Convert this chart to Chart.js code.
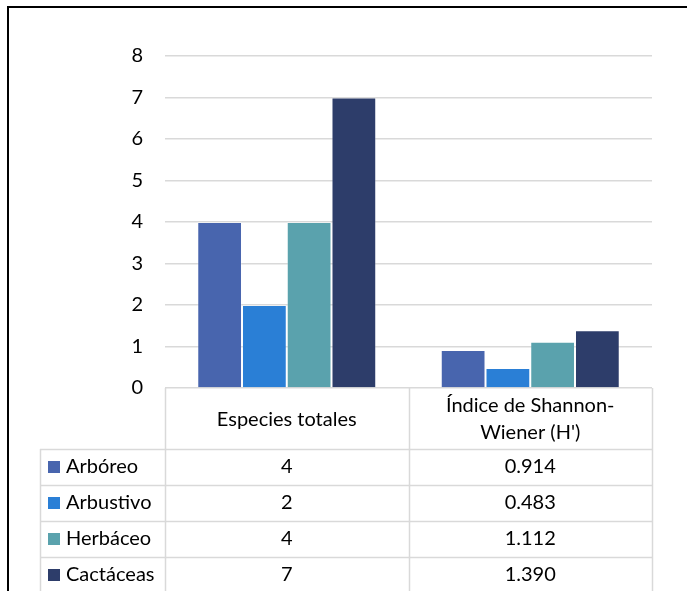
<!DOCTYPE html>
<html>
<head>
<meta charset="utf-8">
<script src="https://cdn.jsdelivr.net/npm/chart.js@4.4.1/dist/chart.umd.min.js"></script>
<style>
  html, body { margin: 0; padding: 0; background: #fff; }
  #wrap { position: relative; width: 687px; height: 591px; }
</style>
</head>
<body>
<div id="wrap"><canvas id="chart" width="687" height="591"></canvas></div>
<script>
'use strict';
const categories = ['Especies totales', ['Índice de Shannon-', "Wiener (H')"]];
const seriesNames = ['Arbóreo', 'Arbustivo', 'Herbáceo', 'Cactáceas'];
const arboreo = [4, 0.914];
const arbustivo = [2, 0.483];
const herbaceo = [4, 1.112];
const cactaceas = [7, 1.390];
const decimals = [0, 3];
const colors = ['#4865ae', '#2a7fd6', '#5aa2ad', '#2d3d6a'];
const FONT = 'Lato, "Open Sans", sans-serif';
const FSIZE = 20;

const tablePlugin = {
  id: 'dataTable',
  afterDraw(chart) {
    const ctx = chart.ctx, area = chart.chartArea, xs = chart.scales.x;
    const c0 = xs.getPixelForValue(0), c1 = xs.getPixelForValue(1);
    const cols = [area.left, (c0 + c1) / 2, area.right];
    const legLeft = 40, headH = 61, rowH = 36;
    const top = area.bottom, headBot = top + headH;
    ctx.save();
    ctx.strokeStyle = '#d9d9d9';
    ctx.lineWidth = 1.5;
    ctx.beginPath();
    cols.forEach(x => { ctx.moveTo(Math.round(x) + 0.5, top); ctx.lineTo(Math.round(x) + 0.5, 591); });
    ctx.moveTo(legLeft + 0.5, headBot); ctx.lineTo(legLeft + 0.5, 591);
    for (let i = 0; i < seriesNames.length; i++) {
      const y = Math.round(headBot + i * rowH) + 0.5;
      ctx.moveTo(legLeft, y); ctx.lineTo(area.right, y);
    }
    ctx.stroke();

    ctx.fillStyle = '#000';
    ctx.font = FSIZE + 'px ' + FONT;
    ctx.textAlign = 'center';
    ctx.textBaseline = 'middle';
    categories.forEach((lab, i) => {
      const cx = xs.getPixelForValue(i);
      const lines = Array.isArray(lab) ? lab : [lab];
      const lh = 27;
      lines.forEach((l, j) => {
        ctx.fillText(l, cx, top + headH / 2 + 1 + (j - (lines.length - 1) / 2) * lh);
      });
    });
    chart.data.datasets.forEach((ds, r) => {
      const cy = headBot + r * rowH + rowH / 2;
      ctx.fillStyle = ds.backgroundColor;
      ctx.fillRect(48, Math.round(cy - 6), 12, 12);
      ctx.fillStyle = '#000';
      ctx.textAlign = 'left';
      ctx.fillText(ds.label, 66, cy);
      ctx.textAlign = 'center';
      ds.data.forEach((v, i) => {
        ctx.fillText(v.toFixed(decimals[i]), xs.getPixelForValue(i), cy);
      });
    });

    // outer frame
    ctx.fillStyle = '#000';
    ctx.fillRect(7, 6, 680, 2);
    ctx.fillRect(7, 6, 2, 585);
    ctx.restore();
  }
};

const seriesData = [arboreo, arbustivo, herbaceo, cactaceas];
new Chart(document.getElementById('chart'), {
  type: 'bar',
  data: {
    labels: categories,
    datasets: seriesNames.map((n, i) => ({
      label: n,
      data: seriesData[i],
      backgroundColor: colors[i],
      borderColor: 'rgba(255,255,255,0.25)',
      borderWidth: 1,
      categoryPercentage: 0.735,
      barPercentage: 1
    }))
  },
  options: {
    responsive: false,
    animation: false,
    layout: { padding: { top: 56, right: 35, bottom: 203, left: 0 } },
    plugins: { legend: { display: false }, tooltip: { enabled: false } },
    scales: {
      x: { display: false },
      y: {
        min: 0, max: 8,
        ticks: { stepSize: 1, color: '#000', font: { size: FSIZE, family: FONT }, padding: 22 },
        grid: { color: '#d9d9d9', lineWidth: 1.5, drawTicks: false },
        border: { display: false },
        afterFit(scale) { scale.width = 165; }
      }
    }
  },
  plugins: [tablePlugin]
});
</script>
</body>
</html>
